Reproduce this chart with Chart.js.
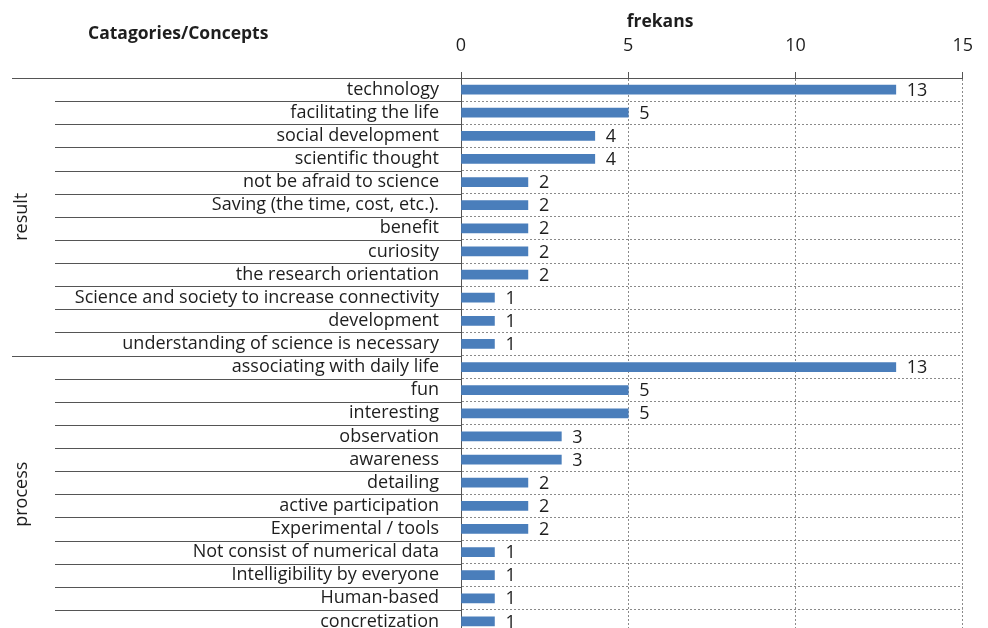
<!DOCTYPE html>
<html>
<head>
<meta charset="utf-8">
<script src="https://cdn.jsdelivr.net/npm/chart.js@4.4.0/dist/chart.umd.min.js"></script>
<style>
  html, body { margin: 0; padding: 0; background: #fff; overflow: hidden; }
  #chart { display: block; width: 988px; height: 640px; }
</style>
</head>
<body>
<canvas id="chart" width="988" height="640"></canvas>
<script>
// Data
const groupNames = ['result', 'process'];
const resultConcepts = [
    'technology', 'facilitating the life', 'social development', 'scientific thought',
    'not be afraid to science', 'Saving (the time, cost, etc.).', 'benefit', 'curiosity',
    'the research orientation', 'Science and society to increase connectivity',
    'development', 'understanding of science is necessary'
];
const resultFreq = [13, 5, 4, 4, 2, 2, 2, 2, 2, 1, 1, 1];
const processConcepts = [
    'associating with daily life', 'fun', 'interesting', 'observation', 'awareness',
    'detailing', 'active participation', 'Experimental / tools',
    'Not consist of numerical data', 'Intelligibility by everyone', 'Human-based', 'concretization'
];
const processFreq = [13, 5, 5, 3, 3, 2, 2, 2, 1, 1, 1, 1];
const xTicks = [0, 5, 10, 15];

const labels = resultConcepts.concat(processConcepts);
const values = resultFreq.concat(processFreq);
const groupSizes = [resultConcepts.length, processConcepts.length];

const FONT = '"Open Sans", "Noto Sans", sans-serif';
const TEXT = '#1e1e1e';

// solid separators in the label column + group names + headers
const sideLines = {
    id: 'sideLines',
    afterDraw(chart) {
        const ctx = chart.ctx;
        const ys = chart.scales.y;
        const area = chart.chartArea;
        const rowH = ys.getPixelForValue(1) - ys.getPixelForValue(0);
        const starts = [0, groupSizes[0]];
        ctx.save();
        ctx.strokeStyle = '#555';
        ctx.lineWidth = 1;
        for (let i = 0; i < labels.length; i++) {
            const yy = Math.round(ys.getPixelForValue(i) - rowH / 2) + 0.5;
            const x0 = starts.includes(i) ? 12 : 55;
            ctx.beginPath();
            ctx.moveTo(x0, yy);
            ctx.lineTo(area.left, yy);
            ctx.stroke();
        }
        // group names, rotated
        ctx.fillStyle = TEXT;
        ctx.font = '18px ' + FONT;
        ctx.textAlign = 'center';
        ctx.textBaseline = 'middle';
        let first = 0;
        groupNames.forEach((g, k) => {
            const last = first + groupSizes[k] - 1;
            const cy = (ys.getPixelForValue(first) + ys.getPixelForValue(last)) / 2;
            ctx.save();
            ctx.translate(22, cy);
            ctx.rotate(-Math.PI / 2);
            ctx.fillText(g, 0, 0);
            ctx.restore();
            first = last + 1;
        });
        ctx.font = 'bold 17.5px ' + FONT;
        ctx.textAlign = 'left';
        ctx.fillText('Catagories/Concepts', 88, 34);
        ctx.textAlign = 'center';
        ctx.fillText('frekans', 660, 22);
        ctx.restore();
    }
};

// numbers at the bar ends
const barValues = {
    id: 'barValues',
    afterDatasetsDraw(chart) {
        const ctx = chart.ctx;
        const meta = chart.getDatasetMeta(0);
        ctx.save();
        ctx.fillStyle = TEXT;
        ctx.font = '18px ' + FONT;
        ctx.textAlign = 'left';
        ctx.textBaseline = 'middle';
        meta.data.forEach((bar, i) => {
            ctx.fillText(String(values[i]), bar.x + 11, bar.y + 1);
        });
        ctx.restore();
    }
};

new Chart(document.getElementById('chart'), {
    type: 'bar',
    data: {
        labels: labels,
        datasets: [{
            data: values,
            backgroundColor: '#4a7ebb',
            barThickness: 9
        }]
    },
    options: {
        indexAxis: 'y',
        responsive: false,
        animation: false,
        layout: { autoPadding: false, padding: { top: 0, right: 22, bottom: 7, left: 0 } },
        plugins: {
            legend: { display: false },
            tooltip: { enabled: false }
        },
        scales: {
            x: {
                position: 'top',
                min: 0,
                max: 15,
                afterBuildTicks: (scale) => { scale.ticks = xTicks.map(v => ({ value: v })); },
                afterFit: (scale) => { scale.height = 78; },
                ticks: {
                    color: TEXT,
                    font: { family: FONT, size: 18 },
                    padding: 15
                },
                grid: {
                    color: '#8a8a8a',
                    tickLength: 6,
                    tickColor: '#555',
                    tickBorderDash: []
                },
                border: { display: true, color: '#555', width: 1, dash: [2, 2] }
            },
            y: {
                afterFit: (scale) => {
                    scale.width = 461;
                    scale.paddingTop = 0;
                    scale.paddingBottom = 0;
                },
                ticks: {
                    color: TEXT,
                    font: { family: FONT, size: 18 },
                    padding: 22,
                    autoSkip: false
                },
                grid: {
                    color: '#8a8a8a',
                    drawTicks: false
                },
                border: { display: true, color: '#555', width: 1, dash: [2, 2] }
            }
        }
    },
    plugins: [sideLines, barValues]
});
</script>
</body>
</html>
